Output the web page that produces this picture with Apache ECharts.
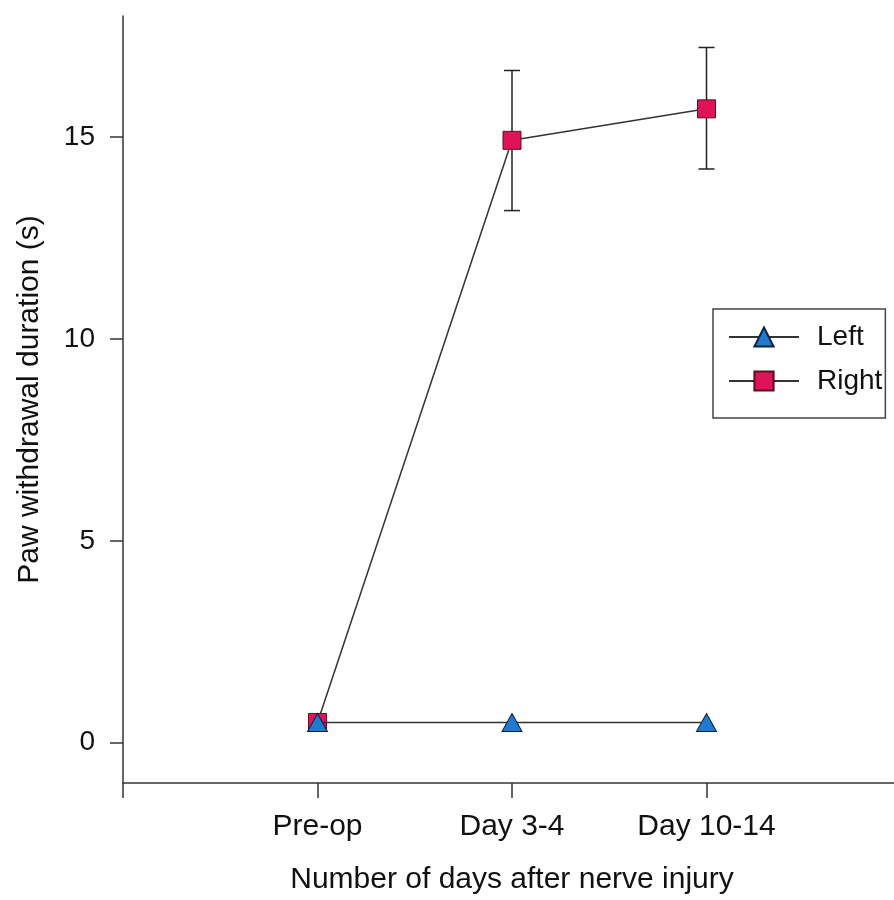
<!DOCTYPE html>
<html>
<head>
<meta charset="utf-8">
<script src="https://cdn.jsdelivr.net/npm/echarts@6/dist/echarts.min.js"></script>
<style>
html,body{margin:0;padding:0;background:#fff;}
#chart{width:894px;height:900px;}
</style>
</head>
<body>
<div id="chart"></div>
<script>
// ---- data ----
var categories = ['Pre-op', 'Day 3-4', 'Day 10-14'];
var leftMean = [0.5, 0.5, 0.5];
var rightMean = [0.5, 14.92, 15.70];
var rightErrLow = [null, 13.18, 14.21];
var rightErrHigh = [null, 16.65, 17.22];
var yTickValues = [0, 5, 10, 15];
var xTitle = 'Number of days after nerve injury';
var yTitle = 'Paw withdrawal duration (s)';

// ---- build ----
function toXY(arr) { return arr.map(function (v, i) { return [i + 1, v]; }); }
var errData = [];
rightErrLow.forEach(function (lo, i) {
  if (lo !== null) errData.push([i + 1, lo, rightErrHigh[i]]);
});

var FONT = '"Liberation Sans", Arial, sans-serif';
var TXT = '#111';
var AX = '#333';

var chart = echarts.init(document.getElementById('chart'), null, {renderer: 'canvas'});
chart.setOption({
  animation: false,
  backgroundColor: '#fff',
  grid: {left: 123, top: 16, width: 778, height: 767, containLabel: false, outerBoundsMode: 'none'},
  legend: {
    data: ['Left', 'Right'],
    orient: 'vertical',
    left: 713, top: 309,
    itemWidth: 70, itemHeight: 24, itemGap: 16,
    padding: [14, 3, 23, 15],
    borderColor: '#444', borderWidth: 1.5,
    textStyle: {fontFamily: FONT, fontSize: 28, color: TXT, padding: [0, 0, 0, 13]}
  },
  xAxis: {
    type: 'value', min: 0, max: 4, interval: 1,
    axisLine: {onZero: false, lineStyle: {color: AX, width: 1.5}},
    axisTick: {length: 15, lineStyle: {color: AX, width: 1.5}},
    splitLine: {show: false},
    axisLabel: {
      margin: 29, fontFamily: FONT, fontSize: 30, color: TXT,
      formatter: function (v) { return categories[v - 1] || ''; }
    },
    name: xTitle, nameLocation: 'middle', nameGap: 82,
    nameTextStyle: {fontFamily: FONT, fontSize: 30, color: TXT}
  },
  yAxis: {
    type: 'value', min: -1, max: 18,
    axisLine: {show: true, onZero: false, lineStyle: {color: AX, width: 1.5}},
    axisTick: {show: true, length: 13, customValues: yTickValues, lineStyle: {color: AX, width: 1.5}},
    splitLine: {show: false},
    axisLabel: {margin: 28, customValues: yTickValues, fontFamily: FONT, fontSize: 28, color: TXT},
    name: yTitle, nameLocation: 'middle', nameGap: 78,
    nameTextStyle: {fontFamily: FONT, fontSize: 30, color: TXT}
  },
  series: [
    {
      type: 'custom', name: 'err', silent: true, z: 1,
      data: errData,
      renderItem: function (params, api) {
        var x = api.value(0);
        var lo = api.coord([x, api.value(1)]);
        var hi = api.coord([x, api.value(2)]);
        var hw = 8;
        var st = {stroke: '#222', lineWidth: 1.5};
        return {
          type: 'group',
          children: [
            {type: 'line', shape: {x1: lo[0], y1: lo[1], x2: hi[0], y2: hi[1]}, style: st},
            {type: 'line', shape: {x1: lo[0] - hw, y1: lo[1], x2: lo[0] + hw, y2: lo[1]}, style: st},
            {type: 'line', shape: {x1: hi[0] - hw, y1: hi[1], x2: hi[0] + hw, y2: hi[1]}, style: st}
          ]
        };
      }
    },
    {
      type: 'line', name: 'Right', z: 3,
      data: toXY(rightMean),
      symbol: 'rect', symbolSize: 18,
      lineStyle: {color: '#333', width: 1.5},
      itemStyle: {color: '#E0125A', borderColor: '#5a1020', borderWidth: 1}
    },
    {
      type: 'line', name: 'Left', z: 4,
      data: toXY(leftMean),
      symbol: 'triangle', symbolSize: [20, 18],
      lineStyle: {color: '#333', width: 1.5},
      itemStyle: {color: '#1E7BD0', borderColor: '#102040', borderWidth: 1}
    }
  ]
});
</script>
</body>
</html>
